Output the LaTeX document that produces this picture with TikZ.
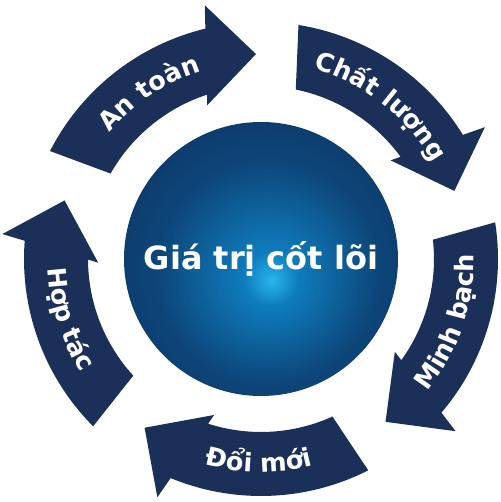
\documentclass[tikz,border=0pt]{standalone}
\usepackage{fontspec}
\setmainfont{DejaVu Sans}
\usetikzlibrary{decorations.text}
\definecolor{navy}{RGB}{27,48,88}
\definecolor{ballA}{RGB}{40,182,236}
\definecolor{ballB}{RGB}{14,124,188}
\definecolor{ballC}{RGB}{13,70,122}
\definecolor{ballD}{RGB}{14,40,82}
\pgfdeclareradialshading{coreball}{\pgfpoint{2bp}{-4bp}}{color(0bp)=(ballA); color(5bp)=(ballB); color(20bp)=(ballC); color(42bp)=(ballD); color(50bp)=(ballD)}
\newcommand\arrowfont{\color{white}\bfseries\fontsize{25.5}{30}\selectfont}
\tikzset{
  ringarrow/.style={fill=navy},
  corenode/.style={circle, minimum size=274pt, inner sep=0pt, shade, shading=coreball,
    text=white, font=\bfseries\fontsize{32}{38}\selectfont}
}
% #1 = tip angle, #2 = label, #3 = 1 for clockwise-reading text
\newcommand\ringpiece[3]{%
  \begin{scope}[rotate=#1]
    \fill[ringarrow] (59:173pt) arc[start angle=59, end angle=16.8, radius=173pt]
      -- (155pt,50pt) -- (205pt,0pt) -- (255pt,50pt) -- (12.18:237pt)
      arc[start angle=12.18, end angle=61.5, radius=237pt] -- cycle;
    \ifnum#3=1
      \path[decorate, decoration={text along path, text={|\arrowfont|#2}, text align=center}]
        (59:197pt) arc[start angle=59, end angle=6, radius=197pt];
    \else
      \path[decorate, decoration={text along path, text={|\arrowfont|#2}, text align=center}]
        (7:213pt) arc[start angle=7, end angle=61, radius=213pt];
    \fi
  \end{scope}}
\begin{document}
\begin{tikzpicture}
\useasboundingbox (-261pt,-243pt) rectangle (239pt,259pt);
\fill[white] (-261pt,-243pt) rectangle (239pt,259pt);
\node[corenode] (core) at (0pt,0pt) {Giá trị cốt lõi};
\ringpiece{91.4}{An toàn}{1}
\ringpiece{19.4}{Chất lượng}{1}
\ringpiece{-52.6}{Minh bạch}{0}
\ringpiece{-124.6}{Đổi mới}{0}
\ringpiece{-196.6}{Hợp tác}{0}
\end{tikzpicture}
\end{document}
